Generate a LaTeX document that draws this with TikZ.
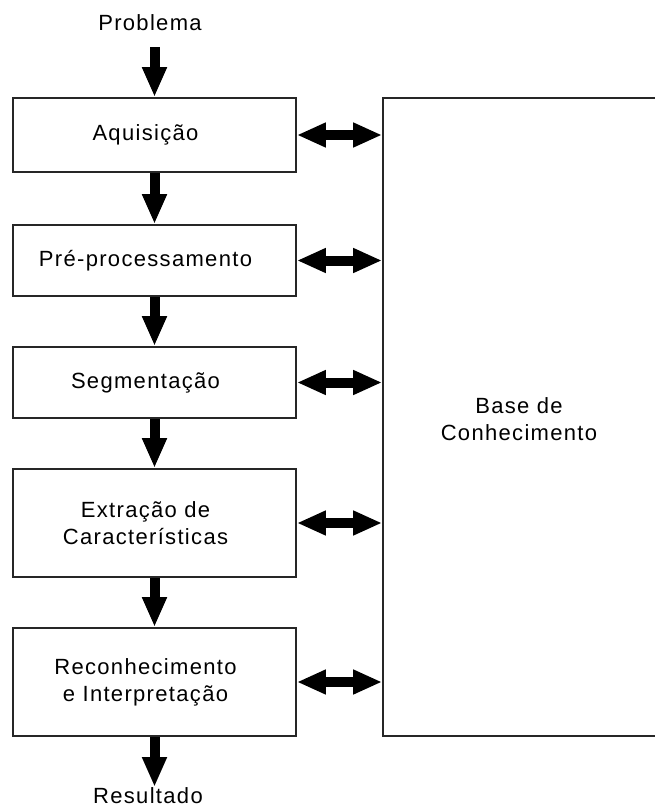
\documentclass[tikz,border=0pt]{standalone}
\usepackage{fontspec}
\setmainfont[LetterSpace=6]{Liberation Sans}
\usetikzlibrary{arrows.meta}
\begin{document}
\begin{tikzpicture}[x=1pt,y=-1pt,
  every node/.style={font=\fontsize{22}{27}\selectfont},
  stage/.style={draw=black!85,line width=1.8pt,minimum width=283pt,inner sep=0pt,fill=white},
  lbl/.style={align=center,xshift=-9pt,inner sep=0pt},
  flow/.style={line width=10pt,-{Triangle[width=23pt,length=30pt]}},
  link/.style={line width=10pt,{Triangle[width=23pt,length=29pt]}-{Triangle[width=23pt,length=29pt]}}]
\useasboundingbox (0,0) rectangle (654,809);
\node[inner sep=0pt] (prob) at (150,23) {Problema};
\node[stage,minimum height=74pt,label={[lbl]center:Aquisição}] (b1) at (154.5,135) {};
\node[stage,minimum height=71pt,label={[lbl]center:Pré-processamento}] (b2) at (154.5,260.5) {};
\node[stage,minimum height=71pt,label={[lbl]center:Segmentação}] (b3) at (154.5,382.5) {};
\node[stage,minimum height=108pt,label={[lbl]center:Extração de\\Características}] (b4) at (154.5,523) {};
\node[stage,minimum height=108pt,label={[lbl]center:Reconhecimento\\e Interpretação}] (b5) at (154.5,682) {};
\node[inner sep=0pt] (res) at (148,796) {Resultado};
\node[draw=black!85,line width=1.8pt,minimum width=320pt,minimum height=638pt] (base) at (543,417) {};
\node[align=center,inner sep=0pt] (basetxt) at (519,419) {Base de\\Conhecimento};
\coordinate (ps) at (154.5,47);
\coordinate (re) at (154.5,787);
\draw[flow] (ps) -- (b1.north);
\draw[flow] (b1.south) -- (b2.north);
\draw[flow] (b2.south) -- (b3.north);
\draw[flow] (b3.south) -- (b4.north);
\draw[flow] (b4.south) -- (b5.north);
\draw[flow] (b5.south) -- (re);
\foreach \b in {b1,b2,b3,b4,b5}{
  \draw[link] (\b.east) -- (\b.east -| base.west);
}
\end{tikzpicture}
\end{document}
